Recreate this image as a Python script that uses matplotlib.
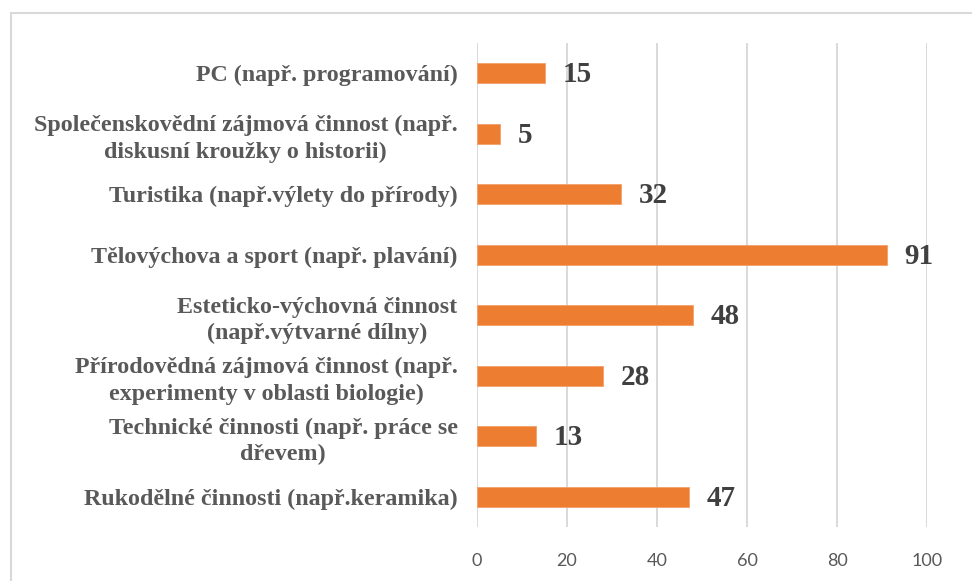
import matplotlib.pyplot as plt
from matplotlib.patches import Rectangle

categories = [
    "PC (např. programování)",
    "Společenskovědní zájmová činnost (např.\ndiskusní kroužky o historii)",
    "Turistika (např.výlety do přírody)",
    "Tělovýchova a sport (např. plavání)",
    "Esteticko-výchovná činnost\n(např.výtvarné dílny)",
    "Přírodovědná zájmová činnost (např.\nexperimenty v oblasti biologie)",
    "Technické činnosti (např. práce se\ndřevem)",
    "Rukodělné činnosti (např.keramika)",
]
values = [15, 5, 32, 91, 48, 28, 13, 47]
xticks = [0, 20, 40, 60, 80, 100]

fig = plt.figure(figsize=(9.72, 5.81), dpi=100)
ax = fig.add_axes([477 / 972, 1 - 527 / 581, 450 / 972, 484 / 581])

ypos = list(range(len(categories)))
bars = ax.barh(ypos, values, height=0.33, color="#ED7D31", edgecolor="#F4A06A", linewidth=0.6, zorder=3)
ax.set_ylim(len(categories) - 0.5, -0.5)
ax.set_xlim(0, 100)
ax.set_xticks(xticks)
ax.set_xticklabels([str(t) for t in xticks], fontsize=13, color="#595959", family=["Lato", "DejaVu Sans"])
ax.set_yticks(ypos)
ax.set_yticklabels(categories, fontsize=17.3, fontweight="bold", color="#595959",
                   family=["Liberation Serif", "DejaVu Serif"], multialignment="center",
                   linespacing=1.32)
ax.tick_params(axis="both", length=0)
ax.tick_params(axis="y", pad=14)
ax.tick_params(axis="x", pad=19)
ax.grid(axis="x", color="#D9D9D9", linewidth=1.4, zorder=0)
for s in ax.spines.values():
    s.set_visible(False)

for b, v in zip(bars, values):
    ax.annotate(str(v), (b.get_width(), b.get_y() + b.get_height() / 2),
                xytext=(13, -1), textcoords="offset points", va="center", ha="left",
                fontsize=21, fontweight="bold", color="#404040", family=["Liberation Serif", "DejaVu Serif"])

fig.patches.append(Rectangle((11 / 972, -0.5), 2, 1.5 - 13 / 581, transform=fig.transFigure,
                             fill=False, edgecolor="#D9D9D9", linewidth=1.5))

fig.savefig("out.png", dpi=100)
